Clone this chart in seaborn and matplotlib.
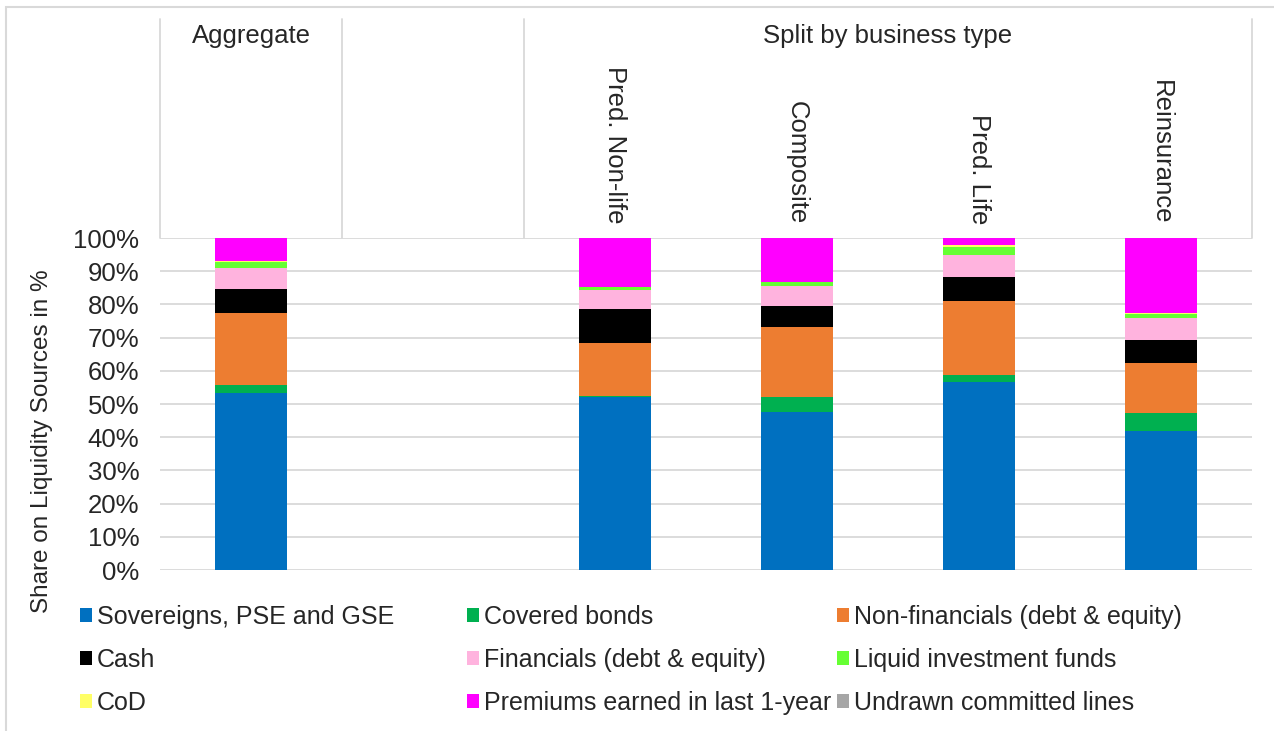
import pandas as pd
import matplotlib
matplotlib.use("Agg")
import matplotlib.pyplot as plt
import seaborn as sns
from matplotlib.patches import Patch, Rectangle

# Chart data (shares in %)
categories = ["Aggregate", "", "Pred. Non-life", "Composite", "Pred. Life", "Reinsurance"]
sovereigns = [53.3, 0, 52.2, 47.7, 56.5, 41.8]
covered_bonds = [2.5, 0, 0.3, 4.4, 2.1, 5.5]
non_financials = [21.6, 0, 16.0, 21.2, 22.5, 15.2]
cash = [7.2, 0, 10.2, 6.2, 7.1, 6.8]
financials = [6.4, 0, 5.7, 5.9, 6.7, 6.6]
liquid_funds = [1.9, 0, 0.8, 1.3, 2.3, 1.2]
cod = [0.1, 0, 0.1, 0.1, 0.6, 0.3]
premiums = [7.0, 0, 14.7, 13.2, 2.2, 22.6]
undrawn = [0, 0, 0, 0, 0, 0]

series_names = ["Sovereigns, PSE and GSE", "Covered bonds", "Non-financials (debt & equity)",
                "Cash", "Financials (debt & equity)", "Liquid investment funds",
                "CoD", "Premiums earned in last 1-year", "Undrawn committed lines"]
series_values = [sovereigns, covered_bonds, non_financials, cash, financials,
                 liquid_funds, cod, premiums, undrawn]
colors = ["#0070C0", "#00B050", "#ED7D31", "#000000", "#FFB3DE",
          "#66FF33", "#FFFF66", "#FF00FF", "#A6A6A6"]

df = pd.DataFrame({name: vals for name, vals in zip(series_names, series_values)})
cum = df[series_names].cumsum(axis=1)
cum["cat"] = categories

sns.set_style("white")
plt.rcParams["font.family"] = ["Liberation Sans", "DejaVu Sans"]
FS = 18.5

W, H = 1274, 731
fig = plt.figure(figsize=(W / 100, H / 100), dpi=100)
ax = fig.add_axes([160 / W, (H - 570) / H, (1252 - 160) / W, 332 / H])

# stacked bars: draw cumulative totals from the top series down
for name, col in reversed(list(zip(series_names, colors))):
    sns.barplot(data=cum, x="cat", y=name, order=categories, color=col,
                saturation=1, width=0.4, linewidth=0, ax=ax)

ax.set_xlim(-0.5, 5.5)
ax.set_ylim(0, 100)
ax.set_yticks(range(0, 101, 10))
ax.set_yticklabels([f"{v}%" for v in range(0, 101, 10)], fontsize=FS)
ax.tick_params(axis="y", length=0, pad=15)
ax.set_xticks([])
ax.set_xlabel("")
ax.set_ylabel("")
ax.yaxis.grid(True, color="#D9D9D9", linewidth=1.3)
ax.set_axisbelow(True)
for s in ax.spines.values():
    s.set_visible(False)

# header above the plot (category axis on top)
top = (570 - 19) / 332
trans = ax.get_xaxis_transform()
for xv in [-0.5, 0.5, 1.5, 5.5]:
    ax.plot([xv, xv], [1, top], color="#D9D9D9", lw=1.3, transform=trans, clip_on=False)
ax.text(0, (570 - 36) / 332, "Aggregate", ha="center", va="center", fontsize=FS, transform=trans)
ax.text(3.5, (570 - 36) / 332, "Split by business type", ha="center", va="center",
        fontsize=FS, transform=trans)
for i, lab in enumerate(categories[2:], start=2):
    ax.text(i, (570 - 224) / 332, lab, ha="center", va="bottom", rotation=270,
            fontsize=FS, transform=trans)

fig.text(42 / W, (H - 441) / H, "Share on Liquidity Sources in %", rotation=90,
         ha="center", va="center", fontsize=17.5)

# legend: three columns laid out row by row
handles = [Patch(facecolor=c, edgecolor="none") for c in colors]
col_x = [80, 467, 837]
for j, x0 in enumerate(col_x):
    idx = [j, j + 3, j + 6]
    fig.legend([handles[k] for k in idx], [series_names[k] for k in idx],
               loc="upper left", bbox_to_anchor=(x0 / W, (H - 605) / H),
               frameon=False, fontsize=18, handlelength=0.48, handleheight=0.48,
               handletextpad=0.2, labelspacing=0.76, borderpad=0, borderaxespad=0)

# outer chart frame
fig.add_artist(Rectangle((6 / W, -0.1), 1.2, (H - 7) / H + 0.1, transform=fig.transFigure,
                         fill=False, edgecolor="#D9D9D9", lw=1.5))

fig.savefig("out.png", dpi=100)
